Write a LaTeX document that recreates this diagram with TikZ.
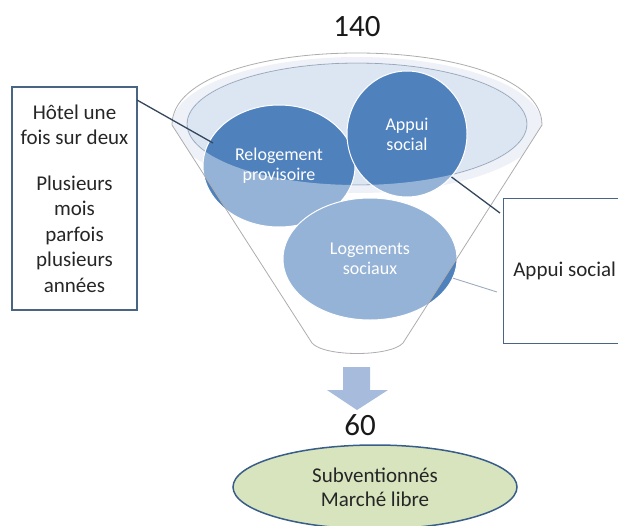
\documentclass[tikz,border=0pt]{standalone}
\usepackage{fontspec}
\setmainfont{Carlito}
\usetikzlibrary{positioning,shapes.geometric}
\definecolor{bubblue}{HTML}{4F81BD}
\definecolor{rimblue}{HTML}{E3E9F3}
\definecolor{topblue}{HTML}{DCE6F2}
\definecolor{rimline}{HTML}{8497B0}
\definecolor{edgegray}{HTML}{ADADAD}
\definecolor{boxline}{HTML}{4A6584}
\definecolor{flowblue}{HTML}{A7BCDC}
\definecolor{olivegreen}{HTML}{D7E4BD}
\definecolor{ovalline}{HTML}{385D8A}
\newcommand{\funnelpath}{(172,125) .. controls (172,29) and (542,29) .. (542,125) -- (403,343) .. controls (390,357) and (324,357) .. (312,343) -- cycle}
\tikzset{
	bubble/.style={ellipse, fill=bubblue, draw=white, line width=1pt, text=white, align=center, inner sep=0pt, font=\fontsize{18}{20}\selectfont},
	callbox/.style={rectangle, draw=boxline, line width=1.3pt, text=black!85, font=\fontsize{21}{25.5}\selectfont},
	callline/.style={draw=boxline!70!black, line width=1.3pt},
	softline/.style={draw=rimline!80, line width=0.9pt},
	count/.style={font=\fontsize{31}{31}\selectfont, text=black!90},
}
\begin{document}
\begin{tikzpicture}[x=1pt, y=-1pt]
	\useasboundingbox (0,0) rectangle (618,525);

	% rim of the funnel
	\begin{scope}
		\clip \funnelpath;
		\fill[rimblue] (357,125) ellipse [x radius=185pt, y radius=68pt];
	\end{scope}
	\filldraw[fill=topblue, draw=rimline, line width=0.8pt] (357,124) ellipse [x radius=170pt, y radius=61pt];

	% bubbles in the funnel
	\node[bubble, minimum width=152pt, minimum height=122pt] (relog) at (279,166) {Relogement\\provisoire};
	\node[bubble, minimum width=120pt, minimum height=126pt] (appui) at (407,134) {Appui\\social};
	\node[bubble, minimum width=174pt, minimum height=122pt] (socl) at (370,259) {Logements\\sociaux};

	% lighter body below the top
	\fill[white, opacity=0.4, even odd rule] \funnelpath (357,124) ellipse [x radius=170pt, y radius=61pt];
	\draw[edgegray, line width=0.8pt] \funnelpath;

	% callouts
	\node[callbox, minimum width=125pt, minimum height=223pt, align=center] (hotel) at (74.5,198.5)
		{H\^otel une\\fois sur deux\\[20pt]Plusieurs\\mois\\parfois\\plusieurs\\ann\'ees};
	\node[callbox, anchor=north west, minimum width=122pt, minimum height=145pt] (apbox) at (503,198) {Appui social};

	\coordinate (hotout) at (137,100);
	\coordinate (relin) at (213,143);
	\coordinate (apin) at (500,213);
	\coordinate (socin) at (497,292);
	\draw[callline] (hotout) -- (relin);
	\draw[callline] (appui.-44) -- (apin);
	\draw[softline] (socl.-13) -- (socin);

	% counts and result
	\node[count] (top) at (357,27) {140};
	\fill[flowblue] (343,367) -- (370,367) -- (370,390) -- (388,390) -- (357,410) -- (327,390) -- (343,390) -- cycle;
	\node[count] (bottom) at (360,425) {60};
	\node[ellipse, fill=olivegreen, draw=ovalline, line width=1.5pt, minimum width=284pt, minimum height=84pt, align=center, text=black!85, font=\fontsize{21}{24}\selectfont] (market) at (375,487)
		{Subventionn\'es\\March\'e libre};
\end{tikzpicture}
\end{document}
